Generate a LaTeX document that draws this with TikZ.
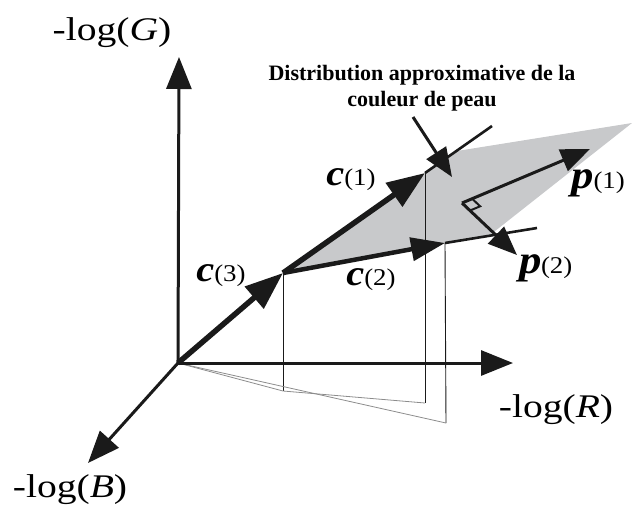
\documentclass[tikz,border=0pt]{standalone}
\usepackage{fontspec}
\setmainfont{Liberation Serif}
\newfontfamily\axfont[FakeStretch=1.2]{Liberation Serif}
\newfontfamily\vecfont[FakeStretch=1.12]{Liberation Serif}
\usepackage{tikz}
\usetikzlibrary{arrows.meta,positioning,calc}
\definecolor{planegray}{HTML}{C8C9CB}
\definecolor{projc}{HTML}{8C8C8C}
\definecolor{ink}{HTML}{1A1A1A}
\tikzset{
  axis/.style={-{Triangle[length=32pt, width=25pt]}, line width=3pt, draw=ink},
  vecbig/.style={-{Triangle[length=38pt, width=28pt]}, line width=5.5pt, draw=ink},
  vecmid/.style={-{Triangle[length=34pt, width=23pt]}, line width=4.5pt, draw=ink},
  ptr/.style={-{Triangle[length=29pt, width=23pt]}, line width=3pt, draw=ink},
  extline/.style={line width=2.6pt, draw=ink},
  drop/.style={line width=0.9pt, draw=ink},
  proj/.style={line width=0.8pt, draw=projc},
  axlbl/.style={font=\axfont\fontsize{33}{36}\selectfont, inner sep=0pt},
  veclbl/.style={font=\vecfont\fontsize{24}{26}\selectfont, inner sep=0pt},
  note/.style={font=\bfseries\fontsize{22}{26}\selectfont, align=center, inner sep=0pt},
}

\begin{document}
\begin{tikzpicture}[x=1pt, y=-1pt]
  \useasboundingbox (0,0) rectangle (632,515);
  % points of the colour space
  \coordinate (O) at (178,363);
  \coordinate (Gt) at (179,57);
  \coordinate (Rt) at (513,363);
  \coordinate (Bt) at (88,463);
  \coordinate (A) at (283,273);
  \coordinate (C1) at (425,173);
  \coordinate (C1e) at (492,126);
  \coordinate (C2) at (445,243);
  \coordinate (C2e) at (537,228);
  \coordinate (Ap) at (283,391);
  \coordinate (C1p) at (425,403);
  \coordinate (C2p) at (446,423);
  \coordinate (Q) at (462,203);
  \coordinate (P1) at (590,149);
  \coordinate (P2) at (517,255);
  \coordinate (Ps) at (413,117);
  \coordinate (Pt) at (452,177);

  % skin colour plane
  \fill[planegray] (A) -- (457,151) -- (632,123) -- (490,235) -- cycle;

  % projections
  \draw[drop] (A) -- (Ap);
  \draw[drop] (C1) -- (C1p);
  \draw[drop] (C2) -- (C2p);
  \draw[proj] (O) -- (Ap) -- (C1p);
  \draw[proj] (O) -- (C2p);

  % edges of the plane and vectors
  \draw[extline] (C1) -- (C1e);
  \draw[extline] (C2) -- (C2e);
  \draw[vecbig] (O) -- (A);
  \draw[vecbig] (A) -- (C1);
  \draw[vecmid] (A) -- (C2);

  % principal axes
  \draw[ptr] (Q) -- (P1);
  \draw[ptr] (Q) -- (P2);
  \coordinate (m1) at ($(Q)!11pt!(P1)$);
  \coordinate (m2) at ($(Q)!11pt!(P2)$);
  \draw[line width=2pt, draw=ink] (m1) -- ($(m1)+(m2)-(Q)$) -- (m2);
  \draw[ptr] (Ps) -- (Pt);

  % axes
  \draw[axis] (O) -- (Gt);
  \draw[axis] (O) -- (Rt);
  \draw[axis] (O) -- (Bt);

  % labels
  \node[axlbl] (lG) at (112,33) {-log(\textit{G})};
  \node[axlbl] (lR) at (556,410) {-log(\textit{R})};
  \node[axlbl] (lB) at (70,490) {-log(\textit{B})};
  \node[note] (dist) at (422,88) {Distribution approximative de la\\couleur de peau};
  \node[veclbl] (lc1) at (351,180) {{\fontsize{36}{38}\selectfont\bfseries\itshape c}(1)};
  \node[veclbl] (lc2) at (371,280) {{\fontsize{36}{38}\selectfont\bfseries\itshape c}(2)};
  \node[veclbl] (lc3) at (221,276) {{\fontsize{36}{38}\selectfont\bfseries\itshape c}(3)};
  \node[veclbl] (lp1) at (598,183) {{\fontsize{40}{42}\selectfont\bfseries\itshape p}(1)};
  \node[veclbl] (lp2) at (546,268) {{\fontsize{40}{42}\selectfont\bfseries\itshape p}\hspace{-1pt}(2)};
\end{tikzpicture}
\end{document}
